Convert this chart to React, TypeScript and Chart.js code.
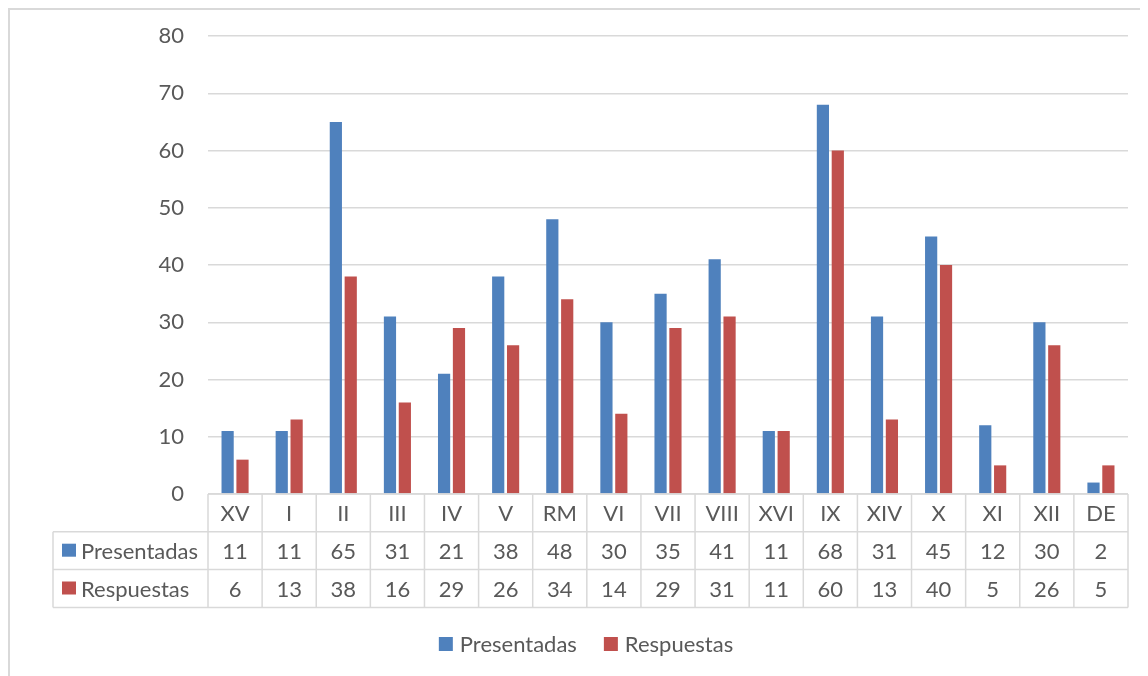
import React, { useEffect, useRef } from "react";
import { Chart, registerables } from "chart.js";

Chart.register(...registerables);

const categories = ["XV", "I", "II", "III", "IV", "V", "RM", "VI", "VII", "VIII", "XVI", "IX", "XIV", "X", "XI", "XII", "DE"];
const presentadas = [11, 11, 65, 31, 21, 38, 48, 30, 35, 41, 11, 68, 31, 45, 12, 30, 2];
const respuestas = [6, 13, 38, 16, 29, 26, 34, 14, 29, 31, 11, 60, 13, 40, 5, 26, 5];
const seriesNames = ["Presentadas", "Respuestas"];
const seriesColors = ["#4F81BD", "#C0504D"];

const FONT = "Lato";
const TEXT = "#595959";
const GRID = "#d9d9d9";

const tablePlugin = {
  id: "dataTable",
  afterDraw(chart: any) {
    const ctx = chart.ctx;
    const x = chart.scales.x;
    const area = chart.chartArea;
    const n = categories.length;
    const colW = x.getPixelForValue(1) - x.getPixelForValue(0);
    const top = area.bottom;
    const rowH = 37.8;
    const legendLeft = 43;
    const left = x.getPixelForValue(0) - colW / 2;
    const right = x.getPixelForValue(n - 1) + colW / 2;
    ctx.save();
    ctx.strokeStyle = GRID;
    ctx.lineWidth = 1.5;
    ctx.beginPath();
    ctx.moveTo(left, top);
    ctx.lineTo(right, top);
    for (let r = 1; r <= 3; r++) {
      ctx.moveTo(legendLeft, top + r * rowH);
      ctx.lineTo(right, top + r * rowH);
    }
    for (let i = 0; i <= n; i++) {
      const xx = left + i * colW;
      ctx.moveTo(xx, top);
      ctx.lineTo(xx, top + 3 * rowH);
    }
    ctx.moveTo(legendLeft, top + rowH);
    ctx.lineTo(legendLeft, top + 3 * rowH);
    ctx.stroke();

    ctx.fillStyle = TEXT;
    ctx.font = `22px ${FONT}`;
    ctx.textAlign = "center";
    ctx.textBaseline = "middle";
    const rows = [presentadas, respuestas];
    for (let i = 0; i < n; i++) {
      const cx = x.getPixelForValue(i);
      ctx.fillText(categories[i], cx, top + rowH * 0.5 + 1);
      for (let r = 0; r < rows.length; r++) {
        ctx.fillText(String(rows[r][i]), cx, top + rowH * (r + 1.5) + 1);
      }
    }
    ctx.textAlign = "left";
    for (let r = 0; r < seriesNames.length; r++) {
      const cy = top + rowH * (r + 1.5);
      ctx.fillStyle = seriesColors[r];
      ctx.fillRect(legendLeft + 9, cy - 7, 14, 13);
      ctx.fillStyle = TEXT;
      ctx.fillText(seriesNames[r], legendLeft + 28, cy + 1);
    }

    // bottom legend
    const box = 14;
    const gapBoxText = 7;
    const gapItems = 27;
    const widths = seriesNames.map((s) => ctx.measureText(s).width);
    const total = widths.reduce((a, w) => a + box + gapBoxText + w, 0) + gapItems * (seriesNames.length - 1);
    let lx = 576 - total / 2;
    const ly = 634;
    for (let r = 0; r < seriesNames.length; r++) {
      ctx.fillStyle = seriesColors[r];
      ctx.fillRect(lx, ly - box / 2, box, box);
      ctx.fillStyle = TEXT;
      ctx.fillText(seriesNames[r], lx + box + gapBoxText, ly + 1);
      lx += box + gapBoxText + widths[r] + gapItems;
    }
    ctx.restore();
  },
};

export default function App() {
  const ref = useRef<HTMLCanvasElement | null>(null);
  useEffect(() => {
    if (!ref.current) return;
    const chart = new Chart(ref.current, {
      type: "bar",
      data: {
        labels: categories,
        datasets: [
          { label: seriesNames[0], data: presentadas, backgroundColor: seriesColors[0], categoryPercentage: 0.55, barPercentage: 0.82 },
          { label: seriesNames[1], data: respuestas, backgroundColor: seriesColors[1], categoryPercentage: 0.55, barPercentage: 0.82 },
        ],
      },
      options: {
        animation: false,
        responsive: false,
        layout: { padding: { left: 16, right: 20, top: 26, bottom: 0 } },
        plugins: {
          tooltip: { enabled: false },
          legend: { display: false },
        },
        scales: {
          x: {
            grid: { display: false },
            border: { display: false },
            ticks: { display: false },
            afterFit: (s: any) => {
              s.height = 182;
            },
          },
          y: {
            min: 0,
            max: 80,
            ticks: { stepSize: 10, color: TEXT, padding: 24, font: { family: FONT, size: 22 } },
            grid: { color: GRID, lineWidth: 1.5, drawTicks: false },
            border: { display: false },
            afterFit: (s: any) => {
              s.width = 182;
              s.paddingTop = 0;
              s.paddingBottom = 0;
            },
          },
        },
      },
      plugins: [tablePlugin],
    });
    return () => chart.destroy();
  }, []);
  return (
    <div
      style={{
        width: 1140,
        height: 668,
        borderTop: "2px solid #d9d9d9",
        borderLeft: "2px solid #d9d9d9",
        boxSizing: "border-box",
        position: "relative",
        background: "#fff",
      }}
    >
      <canvas ref={ref} width={1138} height={666} style={{ display: "block", width: 1138, height: 666 }} />
    </div>
  );
}
